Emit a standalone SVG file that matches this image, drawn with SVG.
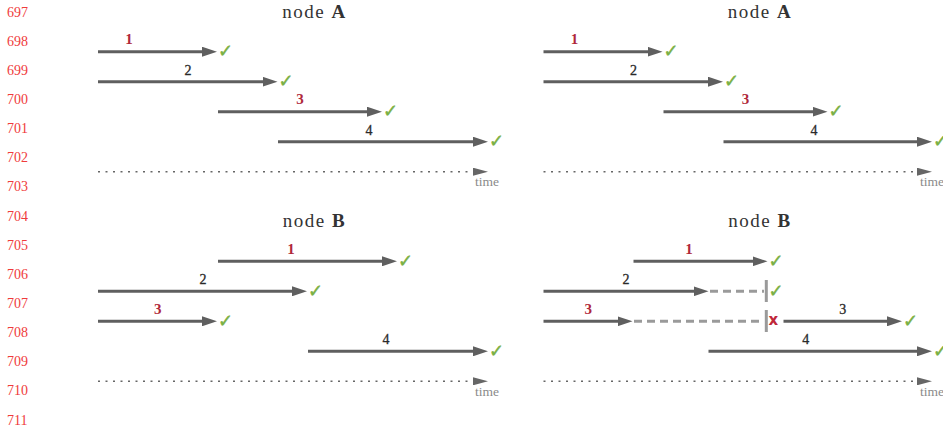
<svg xmlns="http://www.w3.org/2000/svg" width="943" height="431" viewBox="0 0 943 431">
<style>
text{font-family:"Liberation Serif",serif}
.ln{font-size:14px;fill:#ef3b3b}
.title{font-size:19px;fill:#333;text-anchor:middle;letter-spacing:1.5px}
.lr{font-size:15px;font-weight:bold;fill:#b0283a;text-anchor:middle}
.lk{font-size:14px;fill:#2a2a2a;text-anchor:middle;stroke:#2a2a2a;stroke-width:0.3}
.ok{font-family:"DejaVu Sans",sans-serif;font-size:18px;fill:#7ab043;stroke:#7ab043;stroke-width:0.5}
.no{font-family:"DejaVu Sans",sans-serif;font-size:15px;font-weight:bold;fill:#c0283a;text-anchor:middle}
.time{font-size:13.5px;fill:#8a8a8a}
.arr{stroke:#5f5f5f;stroke-width:3;fill:none;marker-end:url(#ah)}
.dash{stroke:#9a9a9a;stroke-width:3;fill:none;stroke-dasharray:8 5}
.bar{stroke:#9a9a9a;stroke-width:3}
.axis{stroke:#666;stroke-width:1.5;fill:none;stroke-dasharray:2 5.5;marker-end:url(#th)}
</style>
<defs>
<marker id="ah" viewBox="0 0 15 10" refX="5" refY="5" markerWidth="15" markerHeight="10" markerUnits="userSpaceOnUse" orient="auto"><path d="M0,0 L15,5 L0,10 z" fill="#5f5f5f"/></marker>
<marker id="th" viewBox="0 0 15 8" refX="5" refY="4" markerWidth="15" markerHeight="8" markerUnits="userSpaceOnUse" orient="auto"><path d="M0,0 L15,4 L0,8 z" fill="#666"/></marker>
</defs>
<rect width="943" height="431" fill="#fff"/>
<g id="line-numbers">
<text class="ln" x="7" y="16.5">697</text>
<text class="ln" x="7" y="45.6">698</text>
<text class="ln" x="7" y="74.8">699</text>
<text class="ln" x="7" y="103.9">700</text>
<text class="ln" x="7" y="133.1">701</text>
<text class="ln" x="7" y="162.2">702</text>
<text class="ln" x="7" y="191.3">703</text>
<text class="ln" x="7" y="220.5">704</text>
<text class="ln" x="7" y="249.6">705</text>
<text class="ln" x="7" y="278.8">706</text>
<text class="ln" x="7" y="307.9">707</text>
<text class="ln" x="7" y="337.0">708</text>
<text class="ln" x="7" y="366.2">709</text>
<text class="ln" x="7" y="395.3">710</text>
<text class="ln" x="7" y="424.5">711</text>
</g>
<g id="panel-A-left">
<text class="title" x="314.5" y="17.5">node <tspan font-weight="bold">A</tspan></text>
<g id="connectors-A-left">
<path class="arr" d="M98,51.7 H207"/>
<path class="arr" d="M98,81.7 H267.5"/>
<path class="arr" d="M218,111.7 H372"/>
<path class="arr" d="M278,141.7 H478"/>
<path class="axis" d="M98,171.7 H478"/>
</g>
<text class="lr" x="129" y="44.3">1</text>
<text class="lk" x="188" y="74.5">2</text>
<text class="lr" x="300" y="104.3">3</text>
<text class="lk" x="369" y="134.5">4</text>
<text class="ok" x="218" y="57">✓</text>
<text class="ok" x="278.5" y="87">✓</text>
<text class="ok" x="383" y="117">✓</text>
<text class="ok" x="489" y="147">✓</text>
<text class="time" x="475" y="186">time</text>
</g>
<g id="panel-A-right">
<text class="title" x="760" y="17.5">node <tspan font-weight="bold">A</tspan></text>
<g id="connectors-A-right">
<path class="arr" d="M543.5,51.7 H652.5"/>
<path class="arr" d="M543.5,81.7 H713"/>
<path class="arr" d="M663.5,111.7 H817.5"/>
<path class="arr" d="M723.5,141.7 H922"/>
<path class="axis" d="M543.5,171.7 H922"/>
</g>
<text class="lr" x="574.5" y="44.3">1</text>
<text class="lk" x="633.5" y="74.5">2</text>
<text class="lr" x="745.5" y="104.3">3</text>
<text class="lk" x="814" y="134.5">4</text>
<text class="ok" x="663.5" y="57">✓</text>
<text class="ok" x="724" y="87">✓</text>
<text class="ok" x="828.5" y="117">✓</text>
<text class="ok" x="933" y="147">✓</text>
<text class="time" x="920" y="186">time</text>
</g>
<g id="panel-B-left">
<text class="title" x="314.5" y="226.5">node <tspan font-weight="bold">B</tspan></text>
<g id="connectors-B-left">
<path class="arr" d="M218,261.3 H387"/>
<path class="arr" d="M98,291.3 H297"/>
<path class="arr" d="M98,321.3 H207"/>
<path class="arr" d="M308,351.3 H478"/>
<path class="axis" d="M98,381.3 H478"/>
</g>
<text class="lr" x="291" y="253.8">1</text>
<text class="lk" x="203" y="284">2</text>
<text class="lr" x="157.7" y="313.8">3</text>
<text class="lk" x="386" y="344">4</text>
<text class="ok" x="398" y="266.5">✓</text>
<text class="ok" x="308" y="296.5">✓</text>
<text class="ok" x="218" y="326.5">✓</text>
<text class="ok" x="489" y="356.5">✓</text>
<text class="time" x="475" y="395.5">time</text>
</g>
<g id="panel-B-right">
<text class="title" x="760" y="226.5">node <tspan font-weight="bold">B</tspan></text>
<g id="connectors-B-right">
<path class="arr" d="M633.5,261.3 H757.5"/>
<path class="arr" d="M543.5,291.3 H698.5"/>
<path class="dash" d="M710,291.3 H764"/>
<path class="bar" d="M766.3,280 V302"/>
<path class="arr" d="M543.5,321.3 H622.5"/>
<path class="dash" d="M634,321.3 H764"/>
<path class="bar" d="M766.3,310 V332"/>
<path class="arr" d="M783.5,321.3 H892"/>
<path class="arr" d="M708.5,351.3 H922"/>
<path class="axis" d="M543.5,381.3 H922"/>
</g>
<text class="lr" x="689" y="253.8">1</text>
<text class="lk" x="626" y="284">2</text>
<text class="lr" x="588.3" y="313.8">3</text>
<text class="lk" x="842.7" y="314">3</text>
<text class="lk" x="805.7" y="344">4</text>
<text class="ok" x="768.5" y="266.5">✓</text>
<text class="ok" x="768.5" y="296.5">✓</text>
<text class="no" x="773.3" y="325">x</text>
<text class="ok" x="903" y="326.5">✓</text>
<text class="ok" x="933" y="356.5">✓</text>
<text class="time" x="920" y="395.5">time</text>
</g>
</svg>
